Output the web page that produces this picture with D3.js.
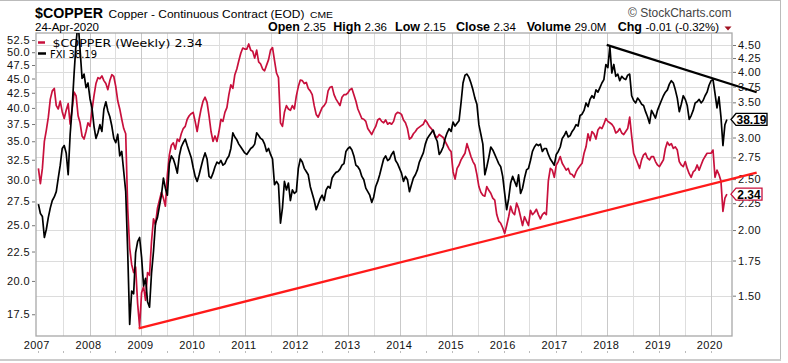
<!DOCTYPE html>
<html>
<head>
<meta charset="utf-8">
<script src="https://cdn.jsdelivr.net/npm/d3@7/dist/d3.min.js"></script>
<style>
  body { margin: 0; background: #fff; }
  #svg-container { width: 788px; height: 363px; }
  svg { display: block; font-family: "Liberation Sans", Arial, sans-serif; }
  .tick text { font-size: 11px; letter-spacing: 0.4px; fill: #111; }
</style>
</head>
<body>
<div id="svg-container"></div>
<script>
////////////////////////////////////////////////////////////////////
////////////////////////////  Data  ////////////////////////////////
// one sample every 2 weeks, first one on this friday
const firstWeek = new Date(2007, 0, 5);

// $COPPER weekly close (right axis)
const copper = [
  // 2007
  2.62, 2.45, 2.62, 2.95, 3.10, 3.28, 3.55, 3.68, 3.72, 3.45, 3.40, 3.52, 3.36, 3.26, 3.38, 3.48, 3.18, 3.40, 3.66, 3.60, 3.30, 3.20, 3.02, 2.98, 3.08, 3.20,
  // 2008
  3.15, 3.38, 3.60, 3.80, 3.90, 3.88, 3.93, 3.85, 3.80, 3.70, 3.85, 3.95, 3.92, 3.75, 3.52, 3.40, 3.25, 3.12, 3.05, 2.20, 1.85, 1.72, 1.66, 1.70, 1.45, 1.31,
  // 2009
  1.52, 1.56, 1.47, 1.66, 1.64, 1.90, 2.10, 2.05, 2.20, 2.28, 2.36, 2.30, 2.22, 2.55, 2.78, 2.90, 2.93, 2.85, 2.98, 2.95, 3.05, 3.12, 3.15, 3.25, 3.30, 3.33,
  // 2010
  3.35, 3.22, 3.08, 3.25, 3.40, 3.52, 3.58, 3.50, 3.30, 3.08, 2.95, 3.02, 2.95, 3.08, 3.25, 3.22, 3.35, 3.42, 3.62, 3.78, 3.72, 3.95, 4.05, 4.20, 4.34, 4.44, 4.42,
  // 2011
  4.42, 4.52, 4.40, 4.38, 4.25, 4.40, 4.18, 4.14, 4.05, 4.02, 4.12, 4.22, 4.40, 4.45, 4.20, 3.98, 3.90, 3.20, 3.15, 3.35, 3.45, 3.40, 3.38, 3.45, 3.40, 3.60,
  // 2012
  3.75, 3.86, 3.85, 3.80, 3.82, 3.72, 3.68, 3.62, 3.45, 3.32, 3.28, 3.35, 3.42, 3.45, 3.50, 3.68, 3.74, 3.75, 3.62, 3.55, 3.50, 3.45, 3.58, 3.62, 3.62, 3.65,
  // 2013
  3.70, 3.72, 3.62, 3.52, 3.40, 3.33, 3.26, 3.25, 3.22, 3.12, 3.08, 3.04, 3.10, 3.15, 3.24, 3.26, 3.22, 3.20, 3.24, 3.18, 3.20, 3.18, 3.22, 3.32, 3.35, 3.34,
  // 2014
  3.32, 3.24, 3.20, 3.12, 2.98, 3.00, 3.05, 3.08, 3.12, 3.14, 3.16, 3.18, 3.24, 3.20, 3.15, 3.12, 3.08, 3.02, 3.00, 3.04, 3.02, 3.00, 2.95, 2.90, 2.85, 2.82,
  // 2015
  2.58, 2.50, 2.62, 2.66, 2.72, 2.76, 2.80, 2.92, 2.84, 2.76, 2.70, 2.66, 2.55, 2.42, 2.36, 2.33, 2.32, 2.42, 2.38, 2.35, 2.30, 2.28, 2.14, 2.08, 2.06, 2.02,
  // 2016
  1.97, 2.04, 2.12, 2.22, 2.16, 2.14, 2.25, 2.20, 2.12, 2.04, 2.12, 2.08, 2.04, 2.18, 2.14, 2.16, 2.19, 2.14, 2.10, 2.14, 2.16, 2.14, 2.48, 2.62, 2.60, 2.52,
  // 2017
  2.66, 2.70, 2.76, 2.68, 2.64, 2.60, 2.62, 2.56, 2.55, 2.52, 2.58, 2.62, 2.65, 2.68, 2.80, 2.88, 3.05, 2.96, 3.08, 3.05, 2.98, 3.10, 3.14, 3.12, 3.18, 3.26,
  // 2018
  3.22, 3.20, 3.18, 3.14, 3.06, 3.08, 3.12, 3.06, 3.04, 3.08, 3.12, 3.28, 3.02, 2.80, 2.74, 2.68, 2.62, 2.72, 2.78, 2.80, 2.74, 2.72, 2.76, 2.76, 2.70, 2.66,
  // 2019
  2.64, 2.68, 2.72, 2.86, 2.94, 2.90, 2.92, 2.86, 2.88, 2.84, 2.70, 2.66, 2.64, 2.70, 2.62, 2.56, 2.52, 2.58, 2.60, 2.66, 2.60, 2.66, 2.72, 2.76, 2.80, 2.80,
  // 2020
  2.80, 2.84, 2.52, 2.60, 2.55, 2.48, 2.17, 2.30, 2.34
];

// FXI overlay (left axis)
const fxi = [
  // 2007
  27.2, 26.2, 25.9, 23.8, 24.6, 25.8, 26.8, 27.6, 28.0, 28.6, 30.2, 31.8, 34.0, 34.4, 33.4, 30.6, 36.0, 40.0, 46.0, 52.0, 56.5, 50.5, 45.0, 45.8, 43.4, 44.2,
  // 2008
  41.5, 40.0, 37.2, 35.4, 36.2, 37.4, 36.4, 39.8, 41.0, 39.5, 38.6, 37.2, 35.4, 34.8, 36.0, 33.0, 33.6, 31.0, 28.6, 22.5, 16.8, 19.2, 19.0, 22.4, 23.4, 23.8,
  // 2009
  22.0, 19.6, 20.2, 18.4, 18.0, 20.6, 22.5, 25.2, 25.8, 27.0, 28.2, 30.2, 29.0, 28.2, 32.0, 33.0, 32.6, 31.8, 30.8, 33.0, 34.2, 34.8, 35.3, 34.4, 33.6, 32.8,
  // 2010
  31.5, 30.4, 29.8, 30.6, 31.6, 32.6, 33.4, 32.6, 30.4, 30.2, 30.8, 31.6, 32.2, 32.0, 32.4, 31.8, 32.0, 32.6, 33.0, 34.0, 36.2, 35.6, 35.2, 34.6, 34.2, 33.8, 33.4,
  // 2011
  33.2, 33.6, 34.0, 34.2, 34.6, 36.2, 35.8, 35.4, 35.2, 34.6, 33.6, 34.0, 33.2, 32.6, 29.4, 29.8, 29.4, 25.2, 26.8, 29.8, 28.8, 29.6, 27.6, 28.8, 28.4, 28.6,
  // 2012
  31.4, 32.6, 32.2, 31.4, 31.0, 30.6, 29.2, 28.4, 27.6, 26.6, 27.2, 27.8, 28.2, 27.6, 28.8, 29.2, 29.0, 30.2, 30.6, 30.9, 31.0, 31.3, 31.8, 32.0, 33.6, 34.0,
  // 2013
  34.2, 33.8, 33.0, 31.8, 31.6, 31.2, 30.4, 30.0, 29.0, 28.6, 28.2, 27.4, 28.0, 29.2, 29.8, 30.6, 31.6, 32.6, 33.0, 32.4, 32.6, 33.2, 33.6, 32.4, 32.0, 31.4,
  // 2014
  30.8, 29.8, 30.4, 30.0, 28.6, 29.4, 30.2, 30.6, 31.2, 32.2, 32.8, 33.4, 34.6, 35.4, 35.8, 36.2, 36.6, 35.6, 35.0, 33.2, 33.6, 34.2, 35.4, 36.2, 36.8, 36.4,
  // 2015
  37.8, 37.2, 37.6, 38.0, 40.8, 44.2, 45.6, 45.8, 45.2, 44.2, 43.0, 41.6, 40.6, 37.4, 36.0, 34.6, 30.6, 31.6, 32.8, 34.2, 33.8, 33.2, 32.6, 32.0, 31.6, 30.4,
  // 2016
  28.4, 26.6, 27.8, 29.6, 30.4, 29.8, 29.2, 30.6, 28.4, 29.0, 30.2, 31.2, 31.4, 32.4, 33.6, 34.2, 34.6, 34.4, 34.6, 33.6, 34.0, 34.0, 33.2, 32.6, 32.2, 31.8,
  // 2017
  33.2, 33.6, 34.2, 35.4, 35.8, 36.4, 35.6, 35.8, 36.4, 36.8, 37.4, 37.2, 38.8, 39.0, 39.6, 40.8, 40.2, 41.4, 42.0, 41.6, 43.0, 42.6, 43.4, 44.2, 44.8, 47.6,
  // 2018
  47.0, 51.2, 46.0, 47.6, 45.4, 45.8, 44.6, 45.4, 45.0, 44.8, 45.6, 45.8, 42.0, 41.2, 40.8, 41.6, 41.2, 40.6, 40.4, 39.4, 38.6, 37.6, 39.6, 39.0, 38.4, 39.6,
  // 2019
  40.4, 41.2, 42.0, 42.6, 43.0, 44.0, 44.6, 44.2, 43.0, 41.6, 39.4, 40.6, 42.0, 41.4, 40.4, 38.2, 38.8, 39.6, 40.8, 41.0, 41.4, 40.8, 41.2, 42.0, 42.6, 43.8,
  // 2020
  44.6, 44.8, 42.4, 40.0, 41.8, 38.6, 34.4, 37.4, 38.19
];

// trend lines drawn by hand on the chart: [date, value]
const copperTrend = [["2008-12-12", 1.30], ["2020-11-20", 2.572]];
const fxiTrend = [["2017-12-28", 51.5], ["2020-11-20", 42.6]];

// axis ticks (3.25 has a grid line but its label sits under the FXI tag)
const copperTicks = [4.5, 4.25, 4.0, 3.75, 3.5, 3.25, 3.0, 2.75, 2.5, 2.25, 2.0, 1.75, 1.5];
const copperLabels = [4.5, 4.25, 4.0, 3.75, 3.5, 3.0, 2.75, 2.5, 2.25, 2.0, 1.75, 1.5];
const fxiTicks = [52.5, 50, 47.5, 45, 42.5, 40, 37.5, 35, 32.5, 30, 27.5, 25, 22.5, 20, 17.5];
const years = d3.range(2007, 2021);

// header texts
const symbol = "$COPPER";
const title = "Copper - Continuous Contract (EOD)";
const exchange = "CME";
const asOf = "24-Apr-2020";
const quote = [["Open", "2.35"], ["High", "2.36"], ["Low", "2.15"], ["Close", "2.34"], ["Volume", "29.0M"], ["Chg", "-0.01 (-0.32%)"]];

////////////////////////////////////////////////////////////////////
////////////////////////////  Init  ////////////////////////////////
const width = 788;
const height = 363;
const plot = { left: 36, right: 732, top: 33, bottom: 336 };

const svg = d3
  .select("#svg-container")
  .append("svg")
  .attr("width", width)
  .attr("height", height);

const weeks = copper.map((d, i) => d3.timeDay.offset(firstWeek, 14 * i));
const parseDay = d3.timeParse("%Y-%m-%d");

// scale
const xScale = d3
  .scaleTime()
  .domain([new Date(2006, 11, 19), new Date(2020, 4, 30)])
  .range([plot.left, plot.right]);
const yCopper = d3.scaleLog().domain([1.257, 4.743]).range([plot.bottom, plot.top]);
const yFxi = d3.scaleLog().domain([16.04, 54.0]).range([plot.bottom, plot.top]);

const copperColor = "#c8103c";

// outer frame
svg.append("line").attr("x1", 0).attr("x2", 781).attr("y1", 0.5).attr("y2", 0.5).attr("stroke", "#bbb");
svg.append("line").attr("x1", 780.5).attr("x2", 780.5).attr("y1", 0).attr("y2", 360).attr("stroke", "#bbb");
svg.append("line").attr("x1", 0).attr("x2", 781).attr("y1", 360).attr("y2", 360).attr("stroke", "#ccc").attr("stroke-width", 2);

////////////////////////////////////////////////////////////////////
////////////////////////////  Grid  ////////////////////////////////
const grid = svg.append("g");

grid
  .selectAll(".hgrid")
  .data(copperTicks)
  .join("line")
  .attr("x1", plot.left)
  .attr("x2", plot.right)
  .attr("y1", (d) => Math.round(yCopper(d)) + 0.5)
  .attr("y2", (d) => Math.round(yCopper(d)) + 0.5)
  .attr("stroke", "#dcdcdc");

const midYears = d3.range(2007, 2020).map((y) => new Date(y, 6, 1));
grid
  .selectAll(".mgrid")
  .data(midYears)
  .join("line")
  .attr("x1", (d) => Math.round(xScale(d)) + 0.5)
  .attr("x2", (d) => Math.round(xScale(d)) + 0.5)
  .attr("y1", plot.top)
  .attr("y2", plot.bottom)
  .attr("stroke", "#dedede");

grid
  .selectAll(".vgrid")
  .data(years.slice(1))
  .join("line")
  .attr("x1", (d) => Math.round(xScale(new Date(d, 0, 1))) + 0.5)
  .attr("x2", (d) => Math.round(xScale(new Date(d, 0, 1))) + 0.5)
  .attr("y1", plot.top)
  .attr("y2", plot.bottom)
  .attr("stroke", "#c9c9c9");

// plot frame
svg
  .append("rect")
  .attr("x", plot.left)
  .attr("y", plot.top)
  .attr("width", plot.right - plot.left)
  .attr("height", plot.bottom - plot.top)
  .attr("fill", "none")
  .attr("stroke", "#a8a8a8")
  .attr("stroke-width", 1.3);

////////////////////////////////////////////////////////////////////
////////////////////////////  Axes  ////////////////////////////////
const leftAxis = svg
  .append("g")
  .attr("transform", `translate(${plot.left - 1},0)`)
  .call(d3.axisLeft(yFxi).tickValues(fxiTicks).tickFormat(d3.format(".1f")).tickSize(3).tickPadding(2));
leftAxis.select(".domain").remove();
leftAxis.selectAll(".tick line").attr("stroke", "#777");

const rightAxis = svg
  .append("g")
  .attr("transform", `translate(${plot.right + 1},0)`)
  .call(d3.axisRight(yCopper).tickValues(copperLabels).tickFormat(d3.format(".2f")).tickSize(3).tickPadding(2));
rightAxis.select(".domain").remove();
rightAxis.selectAll(".tick line").attr("stroke", "#777");

// years along the bottom
const xAxis = svg.append("g");
xAxis
  .selectAll("text")
  .data(years)
  .join("text")
  .attr("x", (d) => Math.max(xScale(new Date(d, 0, 1)) - 1, 35))
  .attr("y", 348.5)
  .attr("text-anchor", "middle")
  .attr("font-size", 11)
  .attr("letter-spacing", 0.4)
  .attr("fill", "#111")
  .text((d) => d);
xAxis
  .selectAll("line")
  .data(years.map((y) => new Date(y, 0, 1)).concat(midYears).filter((d) => xScale(d) <= plot.right))
  .join("line")
  .attr("x1", (d) => Math.round(Math.max(xScale(d), plot.left)) + 0.5)
  .attr("x2", (d) => Math.round(Math.max(xScale(d), plot.left)) + 0.5)
  .attr("y1", 351)
  .attr("y2", 353)
  .attr("stroke", "#bbb");

////////////////////////////////////////////////////////////////////
////////////////////////////  Lines  ///////////////////////////////
svg
  .append("clipPath")
  .attr("id", "plot-clip")
  .append("rect")
  .attr("x", plot.left)
  .attr("y", plot.top)
  .attr("width", plot.right - plot.left)
  .attr("height", plot.bottom - plot.top);

const series = svg.append("g").attr("clip-path", "url(#plot-clip)");

const copperLine = d3
  .line()
  .x((d, i) => xScale(weeks[i]))
  .y((d) => yCopper(d));
const fxiLine = d3
  .line()
  .x((d, i) => xScale(weeks[i]))
  .y((d) => yFxi(d));

series
  .append("path")
  .datum(copper)
  .attr("d", copperLine)
  .attr("fill", "none")
  .attr("stroke", copperColor)
  .attr("stroke-width", 1.7)
  .attr("stroke-linejoin", "round");

series
  .append("path")
  .datum(fxi)
  .attr("d", fxiLine)
  .attr("fill", "none")
  .attr("stroke", "#000")
  .attr("stroke-width", 1.7)
  .attr("stroke-linejoin", "round");

// trend lines (not clipped, they run over the right axis)
svg
  .append("path")
  .datum(copperTrend)
  .attr("d", d3.line().x((d) => xScale(parseDay(d[0]))).y((d) => yCopper(d[1])))
  .attr("stroke", "#ff1a1a")
  .attr("stroke-width", 2.2)
  .attr("fill", "none");

svg
  .append("path")
  .datum(fxiTrend)
  .attr("d", d3.line().x((d) => xScale(parseDay(d[0]))).y((d) => yFxi(d[1])))
  .attr("stroke", "#000")
  .attr("stroke-width", 2.2)
  .attr("fill", "none");

////////////////////////////////////////////////////////////////////
////////////////////////////  Labels  //////////////////////////////
// last value tags on the right axis
function tag(y, txt, color, w) {
  const x0 = plot.right - 1;
  const g = svg.append("g");
  g.append("path")
    .attr("d", `M${x0},${y} L${x0 + 5},${y - 6} L${x0 + 5 + w},${y - 6} L${x0 + 5 + w},${y + 6} L${x0 + 5},${y + 6} Z`)
    .attr("fill", "#fff")
    .attr("stroke", color)
    .attr("stroke-width", 1.3);
  g.append("text")
    .attr("x", x0 + 5 + w / 2)
    .attr("y", y + 4.5)
    .attr("text-anchor", "middle")
    .attr("font-size", 12)
    .attr("font-weight", "bold")
    .attr("fill", "#000")
    .text(txt);
}
tag(yFxi(fxi[fxi.length - 1]), d3.format(".2f")(fxi[fxi.length - 1]), "#000", 31);
tag(yCopper(copper[copper.length - 1]), d3.format(".2f")(copper[copper.length - 1]), copperColor, 26);

// legend
const legend = svg.append("g").attr("font-family", "'DejaVu Sans', Verdana, sans-serif");
legend.append("line").attr("x1", 38).attr("x2", 45).attr("y1", 42.5).attr("y2", 42.5).attr("stroke", copperColor).attr("stroke-width", 2.5);
legend
  .append("text")
  .attr("x", 52.5)
  .attr("y", 46.5)
  .attr("font-size", 11)
  .attr("textLength", 150)
  .attr("lengthAdjust", "spacingAndGlyphs")
  .text(`${symbol} (Weekly) ${copper[copper.length - 1]}`);
legend.append("line").attr("x1", 38).attr("x2", 46).attr("y1", 53.5).attr("y2", 53.5).attr("stroke", "#000").attr("stroke-width", 2.5);
legend
  .append("text")
  .attr("x", 50)
  .attr("y", 57.5)
  .attr("font-size", 10.5)
  .attr("textLength", 47)
  .attr("lengthAdjust", "spacingAndGlyphs")
  .text(`FXI ${fxi[fxi.length - 1]}`);

// header
svg.append("text").attr("x", 35).attr("y", 18).attr("font-size", 15).attr("font-weight", "bold")
  .attr("textLength", 68).attr("lengthAdjust", "spacingAndGlyphs").text(symbol);
svg.append("text").attr("x", 108.5).attr("y", 18).attr("font-size", 11.5)
  .attr("textLength", 196).attr("lengthAdjust", "spacingAndGlyphs").text(title);
svg.append("text").attr("x", 310).attr("y", 18).attr("font-size", 9.5)
  .attr("textLength", 23).attr("lengthAdjust", "spacingAndGlyphs").text(exchange);
svg.append("text").attr("x", 35).attr("y", 30.5).attr("font-size", 11)
  .attr("textLength", 64).attr("lengthAdjust", "spacingAndGlyphs").text(asOf);
svg.append("text").attr("x", 731.5).attr("y", 16.5).attr("font-size", 12).attr("text-anchor", "end")
  .attr("fill", "#444").text("\u00A9 StockCharts.com");

const quoteX = [268, 333.3, 395, 456, 526.7, 617.7];
const quoteG = svg.append("g");
quote.forEach((q, i) => {
  const t = quoteG.append("text").attr("x", quoteX[i]).attr("y", 30.5);
  t.append("tspan").attr("font-weight", "bold").attr("font-size", 12.5).text(q[0] + " ");
  t.append("tspan").attr("font-size", 11.5).text(q[1]);
});
quoteG
  .append("path")
  .attr("d", "M724.5,26.5 L731.5,26.5 L728,30.5 Z")
  .attr("fill", "#a01020");
</script>
</body>
</html>
